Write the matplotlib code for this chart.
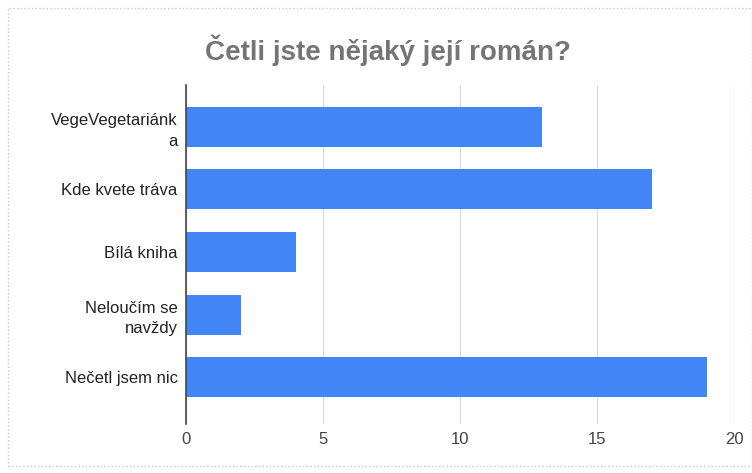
import matplotlib.pyplot as plt
from matplotlib.patches import Rectangle

categories = ["VegeVegetariánk\na", "Kde kvete tráva", "Bílá kniha",
              "Neloučím se\nnavždy", "Nečetl jsem nic"]
values = [13, 17, 4, 2, 19]
xticks = [0, 5, 10, 15, 20]

plt.rcParams['font.family'] = ['Liberation Sans', 'DejaVu Sans']

fig = plt.figure(figsize=(7.52, 4.73), dpi=100)
W, H = 752, 473
ax = fig.add_axes([186 / W, 1 - 424 / H, (734 - 186) / W, (424 - 85) / H])

pos = list(range(len(categories)))
ax.barh(pos, values, height=0.64, color='#4285F4', zorder=3)

ax.set_xlim(0, 20)
ax.set_ylim(4.75, -0.67)
ax.set_xticks(xticks)
ax.set_xticklabels([str(t) for t in xticks], fontsize=12, color='#444444')
ax.set_yticks(pos)
ax.set_yticklabels(categories, fontsize=12, color='#222222',
                   linespacing=1.45, multialignment='right')
ax.tick_params(axis='both', length=0)
ax.tick_params(axis='x', pad=6)
ax.tick_params(axis='y', pad=6)

ax.grid(axis='x', color='#dddddd', linewidth=1, zorder=0)
for s in ['top', 'right', 'bottom']:
    ax.spines[s].set_visible(False)
ax.spines['left'].set_color('#444444')
ax.spines['left'].set_linewidth(1.2)
ax.spines['left'].set_zorder(4)

fig.text(388 / W, 1 - 50 / H, "Četli jste nějaký její román?",
         ha='center', va='center', fontsize=20, fontweight='bold',
         color='#757575')

# screenshot frame
fig.patches.append(Rectangle((8 / W, 1 - 466 / H), (W - 8) / W, (466 - 8) / H,
                             transform=fig.transFigure, fill=False,
                             edgecolor='#c8c8c8', linestyle=':',
                             linewidth=1))

fig.savefig('out.png', dpi=100)
